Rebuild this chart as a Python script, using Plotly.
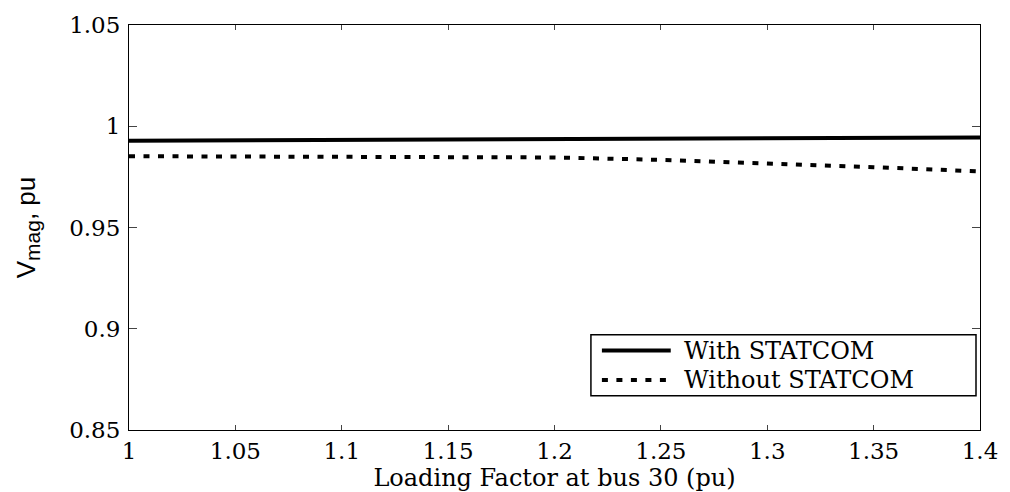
import plotly.graph_objects as go

# Loading factor at bus 30 (pu)
loading = [1.0, 1.05, 1.1, 1.15, 1.2, 1.25, 1.3, 1.35, 1.4]

# Bus voltage magnitude (pu)
v_with_statcom = [0.9929, 0.9931, 0.9933, 0.9935, 0.9937, 0.9939, 0.9941, 0.9943, 0.9945]
v_without_statcom = [0.9852, 0.9851, 0.9850, 0.9849, 0.9846, 0.9834, 0.9818, 0.9798, 0.9777]

x_ticks = [1.0, 1.05, 1.1, 1.15, 1.2, 1.25, 1.3, 1.35, 1.4]
x_tick_text = ["1", "1.05", "1.1", "1.15", "1.2", "1.25", "1.3", "1.35", "1.4"]
y_ticks = [0.85, 0.9, 0.95, 1.0, 1.05]
y_tick_text = ["0.85", "0.9", "0.95", "1", "1.05"]

legend_labels = ["With STATCOM", "Without STATCOM"]

SERIF = "DejaVu Serif, Liberation Serif, serif"
SANS = "Liberation Sans, Arial, sans-serif"

fig = go.Figure()
fig.add_trace(go.Scatter(
    x=loading, y=v_with_statcom, mode="lines", name=legend_labels[0],
    line=dict(color="black", width=4), showlegend=False,
))
fig.add_trace(go.Scatter(
    x=loading, y=v_without_statcom, mode="lines", name=legend_labels[1],
    line=dict(color="black", width=4, dash="6px,8.5px"), showlegend=False,
))

axis_common = dict(
    showgrid=False, zeroline=False, showline=True, linecolor="black", linewidth=1,
    mirror="ticks", ticks="inside", tickcolor="#444", tickwidth=1,
    tickfont=dict(family=SERIF, size=23, color="black"),
)
fig.update_xaxes(
    range=[1.0, 1.4], tickvals=x_ticks, ticktext=x_tick_text, ticklen=5,
    title=dict(text="Loading Factor at bus 30 (pu)",
               font=dict(family=SERIF, size=24, color="black"), standoff=0),
    **axis_common,
)
fig.update_yaxes(
    range=[0.85, 1.05], tickvals=y_ticks, ticktext=y_tick_text, ticklen=8,
    ticklabelstandoff=3,
    title=dict(text="V<sub><span style='font-size:21px'>mag</span></sub>, pu",
               font=dict(family=SANS, size=26, color="black"), standoff=26),
    **axis_common,
)

# Boxed legend in the lower right of the axes
lx0, lx1, ly0, ly1 = 0.5428, 0.9953, 0.0847, 0.2349
fig.add_shape(type="rect", xref="paper", yref="paper", x0=lx0, x1=lx1, y0=ly0, y1=ly1,
              line=dict(color="black", width=1.5), fillcolor="white", layer="above")
rows = [0.1962, 0.1235]
styles = ["solid", "6px,8.5px"]
for label, ypos, dash in zip(legend_labels, rows, styles):
    fig.add_shape(type="line", xref="paper", yref="paper", x0=0.5557, x1=0.6366,
                  y0=ypos, y1=ypos, line=dict(color="black", width=4, dash=dash),
                  layer="above")
    fig.add_annotation(x=0.6495, y=ypos, xref="paper", yref="paper", text=label,
                       showarrow=False, xanchor="left", yanchor="middle",
                       font=dict(family=SERIF, size=24, color="black"))

fig.update_layout(
    width=1010, height=492,
    margin=dict(l=129, r=28, t=17, b=62),
    paper_bgcolor="white", plot_bgcolor="white",
    showlegend=False,
)

fig.write_html("out.html")
